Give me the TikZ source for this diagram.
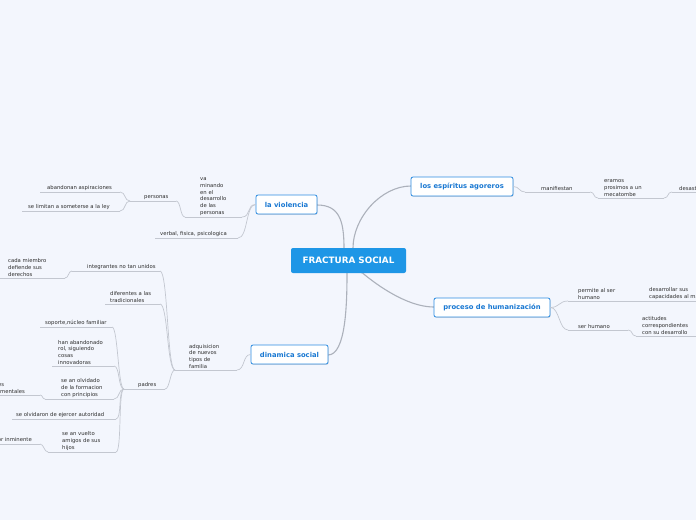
\documentclass[tikz,border=0pt]{standalone}
\usepackage{fontspec}
\setmainfont{DejaVu Sans}
\usetikzlibrary{shadows}
\definecolor{bgc}{RGB}{243,246,253}
\definecolor{maincol}{RGB}{30,150,230}
\definecolor{topicborder}{RGB}{45,140,225}
\definecolor{topictext}{RGB}{25,120,210}
\definecolor{linec}{RGB}{195,199,208}
\definecolor{mainline}{RGB}{172,177,187}
\definecolor{txt}{RGB}{45,45,45}
\tikzset{
  central/.style={fill=maincol, rounded corners=2pt, text=white, font=\fontsize{8.8}{10}\selectfont\bfseries, minimum width=115pt, minimum height=25pt, inner sep=0pt},
  topic/.style={draw=topicborder, line width=0.8pt, fill=white, rounded corners=2pt, text=topictext, font=\fontsize{6.8}{8}\selectfont\bfseries, minimum height=19pt, inner sep=0pt, drop shadow={shadow xshift=0.6pt, shadow yshift=-0.8pt, opacity=0.25}},
  subtext/.style={font=\fontsize{5.3}{6.7}\selectfont, text=txt, align=left, inner xsep=0pt, inner ysep=1.6pt},
  subline/.style={draw=linec, line width=0.7pt},
  mline/.style={draw=mainline, line width=1.1pt},
}
\newcommand\subt[6]{%
  \coordinate (#1-l) at (#2,#4);
  \coordinate (#1-r) at (#3,#4);
  \node[subtext, anchor=south west] (#1) at (#5,#4) {#6};
  \draw[subline] (#1-l) -- (#1-r);
}
\begin{document}
\begin{tikzpicture}[x=1pt, y=-1pt]
\useasboundingbox (0,0) rectangle (696,520);
\fill[bgc] (0,0) rectangle (696,520);
\clip (0,0) rectangle (696,520);

% main connectors
\coordinate (cTopL) at (344,248);
\coordinate (cTopR) at (353,248);
\coordinate (cBotL) at (347,273);
\coordinate (cBotR) at (362,273);
\coordinate (violR) at (317,205);
\coordinate (espL) at (411,186);
\coordinate (humL) at (434,307);
\coordinate (dinR) at (328,355);
\draw[mline] (violR) .. controls +(22,0) and +(0,-28) .. (cTopL);
\draw[mline] (espL) .. controls +(-30,0) and +(0,-30) .. (cTopR);
\draw[mline] (humL) .. controls +(-40,0) and +(-15,-15) .. (cBotR);
\draw[mline] (dinR) .. controls +(18,0) and +(0,30) .. (cBotL);

% main nodes
\node[central] (root) at (348.5,260.5) {FRACTURA SOCIAL};
\node[topic, minimum width=61pt] (viol) at (286.5,204.5) {la violencia};
\node[topic, minimum width=102pt] (esp) at (462,186.5) {los espíritus agoreros};
\node[topic, minimum width=116pt] (hum) at (492,307.5) {proceso de humanización};
\node[topic, minimum width=77pt] (din) at (289.5,354.5) {dinamica social};

% la violencia branch
\subt{vam}{185}{242}{217}{200}{va\\minando\\en el\\desarrollo\\de las\\personas}
\subt{pers}{130}{176}{201}{144}{personas}
\subt{aband}{40}{120}{192}{47}{abandonan aspiraciones}
\subt{limit}{22}{120}{211}{28}{se limitan a someterse a la ley}
\subt{verbal}{155}{238}{238}{160}{verbal, fisica, psicologica}
\draw[subline] (viol.west) .. controls +(-9,0) and +(9,0) .. (vam-r);
\draw[subline] (vam-l) .. controls +(-5,0) and +(5,0) .. (pers-r);
\draw[subline] (pers-l) .. controls +(-6,0) and +(6,0) .. (aband-r);
\draw[subline] (pers-l) .. controls +(-6,0) and +(6,0) .. (limit-r);
\draw[subline] (viol.west) .. controls +(-10,0) and +(10,0) .. (verbal-r);

% espiritus branch
\subt{manif}{525}{590}{192}{541}{manifiestan}
\subt{eram}{598}{664}{198}{604}{eramos\\prosimos a un\\mecatombe}
\subt{desas}{672}{700}{192}{679}{desastre}
\draw[subline] (esp.east) .. controls +(6,0) and +(-6,0) .. (manif-l);
\draw[subline] (manif-r) .. controls +(5,0) and +(-5,0) .. (eram-l);
\draw[subline] (eram-r) .. controls +(5,0) and +(-5,0) .. (desas-l);

% humanizacion branch
\subt{perm}{568}{630}{301}{578}{permite al ser\\humano}
\subt{desar}{636}{700}{301}{649}{desarrollar sus\\capacidades al máximo}
\subt{serh}{568}{628}{330}{578}{ser humano}
\subt{actit}{636}{700}{336}{642}{actitudes\\correspondientes\\con su desarrollo}
\draw[subline] (hum.east) .. controls +(9,0) and +(-9,0) .. (perm-l);
\draw[subline] (perm-r) -- (desar-l);
\draw[subline] (hum.east) .. controls +(9,0) and +(-9,0) .. (serh-l);
\draw[subline] (serh-r) .. controls +(5,0) and +(-5,0) .. (actit-l);

% dinamica social branch
\subt{adq}{175}{237}{370}{189}{adquisicion\\de nuevos\\tipos de\\familia}
\subt{integ}{72}{160}{271}{87}{integrantes no tan unidos}
\subt{cada}{-2}{65}{278}{8}{cada miembro\\defiende sus\\derechos}
\subt{difer}{105}{160}{304}{110}{diferentes a las\\tradicionales}
\subt{padres}{124}{165}{389}{138}{padres}
\draw[subline] (din.west) .. controls +(-8,0) and +(8,0) .. (adq-r);
\draw[subline] (adq-l) .. controls +(-8,0) and +(8,0) .. (integ-r);
\draw[subline] (integ-l) .. controls +(-4,0) and +(4,0) .. (cada-r);
\draw[subline] (adq-l) .. controls +(-8,0) and +(8,0) .. (difer-r);
\draw[subline] (adq-l) .. controls +(-5,0) and +(5,0) .. (padres-r);

% padres children
\subt{sop}{40}{112}{327}{45}{soporte,núcleo familiar}
\subt{han}{52}{114}{366}{58}{han abandonado\\rol, siguiendo\\cosas\\innovadoras}
\subt{olv}{45}{114}{399}{61}{se an olvidado\\de la formacion\\con principios}
\subt{auth}{12}{116}{419}{16}{se olvidaron de ejercer autoridad}
\subt{amig}{48}{116}{452}{62}{se an vuelto\\amigos de sus\\hijos}
\draw[subline] (padres-l) .. controls +(-6,0) and +(6,0) .. (sop-r);
\draw[subline] (padres-l) .. controls +(-6,0) and +(6,0) .. (han-r);
\draw[subline] (padres-l) .. controls +(-6,0) and +(6,0) .. (olv-r);
\draw[subline] (padres-l) .. controls +(-6,0) and +(6,0) .. (auth-r);
\draw[subline] (padres-l) .. controls +(-6,0) and +(6,0) .. (amig-r);

% clipped far-left children
\coordinate (valf-l) at (-30,395);
\coordinate (valf-r) at (40,395);
\node[subtext, anchor=south east] (valf) at (25,395) {valores\\fundamentales};
\draw[subline] (valf-l) -- (valf-r);
\draw[subline] (olv-l) .. controls +(-3,0) and +(3,0) .. (valf-r);
\coordinate (inm-l) at (-30,444);
\coordinate (inm-r) at (40,444);
\node[subtext, anchor=south east] (inm) at (32,444) {peligro mayor inminente};
\draw[subline] (inm-l) -- (inm-r);
\draw[subline] (amig-l) .. controls +(-4,0) and +(4,0) .. (inm-r);
\end{tikzpicture}
\end{document}
